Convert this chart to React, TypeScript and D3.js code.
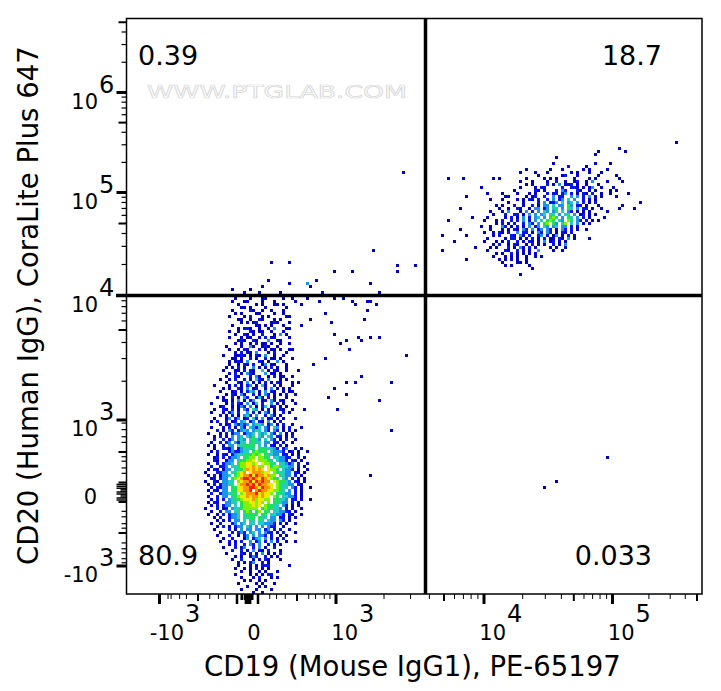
import React from 'react'
import * as d3 from 'd3'

// ---- density grids. Each char is one channel, '.' = empty, 1-9 = colour level
const lowerLeftStart = { col: 26, row: 93 }
const lowerLeftRows = [
  "..........1....1...11.....1..1....1",
  ".........1...11....1...1......1",
  "...........1.....1.1...11.1.....1",
  "............11.1....1......1",
  ".........1.....21..1..1...1...",
  "..........1.1....11....1..1",
  "........1....1.2...1.1.....11",
  "...........11..1..21...1.1",
  "............1.1.12....121...1",
  ".........1.......11.1.1...1.....1",
  "...........1.221..1..1.3...11",
  "........1..1...21.11..1...1",
  "..........1..21.1..2...1.3.1",
  "........1...1.11..1.2.11....1",
  "...........121..21...3..11",
  "..........1.1..1.2.11.1..1..1",
  ".......1....1..31..121..1..",
  "........1..1.21...2.1.11.1..11",
  "..........1.2.11.3...1.2...1",
  "......1...1121.1.21.3..1..1",
  ".........11.1..2.1..2.11.1...1",
  "........1.121.3...21.1..3.1",
  "........1..1.21.2..13.11...1",
  ".......1.1.2.1..3.1.1.2.1..1",
  "......1...11.2.21..4.1.21..1...1",
  "........1.2.1.321...3.11.1",
  ".......1..21...2.31..1.2.11..1",
  ".....1..1.2..2.1.421.3...1.1",
  ".......1...21.3.1.1.2.1.21...1.1",
  "...1....1.2.1.23.1.41..2.1...1",
  "......1.1..21.3.12..1.3.1.1.1",
  ".....1...12.1.243.1.3.21..1.11",
  ".......1.21.31..2.1.32.1.1.2..1",
  "....1.1..2.1.32..141.2.1...1",
  "......11.1.3.1.23..12.31.21..1",
  "..1....1.2.21.3.14.2..3.1.1...1",
  ".....12..1.132.3.1.24.12.1.1",
  "...1..21.2.1.32.43.1.2.1.21..1...1",
  "..1...1.23.2..3.2.1.32.1..2.1",
  ".....2.1.2.1.342.3..2.31.1",
  "...1...13.23.12.42.3.12.1.1...1",
  "..1.2..2.12.34.23.21.3.1.2",
  ".....2.12.32323.3543.23.1.2..1",
  "..1...1.2.1.32.4324.32.43.1.2...1",
  "....2.1.32.2343.354.32.32.1.2.1",
  ".1...1.2.233.2334.434.32.3.1.1",
  "...1.2.1.3.34.435.43.43.22.1.2",
  "...2..2.23.343.4543.4.32.1.2..1",
  "..1..2.23.3244.4544.33.22.1..1",
  ".1.1..1.33.445545.4.3.21.2.1",
  "...1..2213.234454.5554432.23..1.1",
  "..1.2...2322344.56555.43332.12.1..1",
  ".1..1.21.2344555656.54433.22.1.1",
  "...12.2.2334.5566.6655.443322..2.1",
  "...21..133.455667.66654.4332.21.1",
  ".1..2.2334.5667767.76654.44323.2..1",
  "..2..223.44566778766.756654433.2.1",
  ".1.21.133.4556878787.7665.4332.1..1",
  "1...2233.45678.7888677.654433.21.1",
  ".1.2.1334.56788979887866.5433.2.1",
  "..12.233.5678998987987655.43.2.1.1",
  "1..21.3344.67889798988.765543.21.1",
  ".1.2.23345.788989798877.654433.21",
  "..1.2133.55778899879887.6544.32.1..1",
  ".1.21.33.5577889.8988776654.3.2.1",
  "..2..233455.67888978776.55433.2.1",
  ".1..2.33.4567787887877.65.44332.1",
  "..1.2.2.34556777867766.55443.22.1..1",
  ".1.21..3344.56677676.6.55433.2.1",
  "..1.2.233.4.5666767.65544.32.1.1",
  "1...2.12.344566666.5655443.2.1..1",
  "..1..2.33.45.565.56.55.443322.1",
  ".1..1.2.2334.45555.55.44332.21..1",
  "...1.2..2334.4555.544.33.22.1.1",
  "....1.1.2.33.4.54.54.433.32.1",
  "..1..2...23.34.44.443332.2.1..1",
  "....1.2.1.233.43.3.3.322..1",
  "...1....2.1.3.33.33.23.2.2..1",
  ".....1...2.232.34.3.322.1.2...1",
  "....1...2..1.23.3.332.2..1.1",
  "......1..2...13.234.3.2.1.2",
  ".....1..2.1.2..3.23.2.3.2..1..1",
  "........1.2..2.32.3..2.1.1",
  "......1...2.13..2.3.1..2",
  ".........2..2.1.3.21.2...1",
  ".......1....21.2.1.3.1.1.2",
  "..........1.1..132..2.1.1",
  ".........1..2...1.1.21...1",
  "...........1.1.23..2.1",
  "...........1...1.1.222......1",
  "..........1..1.1.2.1.1",
  "............1..1..1.1...1",
  "..........1....1.1.1.22",
  "............1...1.2...1.1",
  ".............1.1..1.1",
  "...........1.....1.1...1",
  "..............1...1.1",
  "............1....1....1",
  "................1..1",
]

const upperRightStart = { col: 108, row: 43 }
const upperRightRows = [
  "........................................................1",
  ".................................................1........1",
  "................................................1",
  "...................................1",
  "",
  "..................................1.............1....1",
  ".......................................2.....1",
  ".........................1.......1...1......1.1.....1",
  ".......................1....1...1.......1.1...1...1",
  ".............................1.......12...1......1.....1",
  "..............1.1........1.....1.1.1.....1....1.1.......1",
  ".......................1...1....1..2..1..12..1.3....1",
  ".........................1.1....2.1.3.112.1..1...1",
  ".......................1....1.21.....2..221.1.13..1...1",
  ".....................1......21.1...2.32...21..1.1....1.1",
  ".................1....1...1.1...2.22.23.2.1.21.2..1..1",
  "..................11.....1.12..2..3.22..3.3.2.3.1.1....1",
  ".............1...1....1.1.21.2..2.3.23.4.3..2.1.1",
  "...................1....1....2.3.223.4.34.3.2.1.2",
  "...............1.1...2..1..2.1.33.4.33.53.22.1...1",
  "................1..1..21..1.33.23.45.3.54.3.22.1..1.....1",
  ".............1...1.3...1.3.2.3.43.35.4.32.1.1.1.....1",
  "..............1...2..22.1.3.3.34.54.3.45.3.12.1.1",
  "............1.....1.2.1.3.2.34.3.564.3.54.3.2.1....1",
  "...........1...1.2..2.2.3.2.3.4.565.43.65.32.2.1.1",
  "...............1.2.1.2..2.32.3.56.53.46.4.3.1.1",
  "..........1..1...32.1.2.1.3.23.43.34.33.2.1",
  ".............1...1.1.21.32.3.23.32.1.32.2.1..1",
  "...........1..1.21.2..3.22.1.32.32.1.21.2",
  "..............1.2...21.31.2..23.2.13.1.2.1",
  "............1.....1.22.1.1.2.1.2.11.21.3.1....1",
  "...........1...1.1.2..2.1.21.1.3.12.1.1",
  "..............1.2..1.21..1.2.1.1..2.1.3",
  ".............1.1...2.1.31.2.1....1.1..1",
  "............1.....21..2.1.1..3....1..1",
  "...............1.1..2.1.1.1.1",
  "..............1...1.1.1..1..1.1",
  "................1.1.1.1..1",
  ".................1....11.1",
  "..................1.1.....1",
  "...........................1",
  "",
  ".......................1",
]

// lone events away from the two populations: [col, row, level]
const strayEvents = [
  [183, 41, 1], [92, 51, 1], [82, 77, 1], [48, 81, 1], [54, 81, 1], [69, 84, 1], [75, 84, 1],
  [90, 82, 1], [90, 84, 1], [96, 82, 1], [47, 87, 1], [63, 87, 1], [54, 88, 1], [60, 88, 3],
  [35, 90, 1], [41, 90, 1], [45, 89, 1], [61, 89, 1], [81, 88, 1], [84, 91, 1], [39, 91, 1],
  [44, 91, 1], [51, 91, 1], [65, 91, 1], [72, 93, 1], [75, 94, 1], [76, 95, 1], [80, 94, 1],
  [81, 94, 1], [83, 95, 1], [80, 97, 1], [64, 94, 1], [69, 93, 1], [66, 98, 1], [68, 101, 1],
  [61, 100, 1], [79, 100, 1], [69, 105, 1], [73, 107, 1], [71, 108, 1], [78, 107, 1], [77, 106, 1],
  [81, 106, 1], [84, 106, 1], [74, 110, 1], [93, 112, 1], [66, 113, 1], [62, 115, 1], [78, 119, 1],
  [88, 121, 1], [73, 121, 1], [76, 121, 1], [69, 123, 1], [73, 125, 1], [67, 126, 1], [84, 127, 1],
  [70, 130, 1], [88, 137, 1], [81, 152, 1], [160, 146, 1], [143, 154, 1], [139, 156, 1],
  // edges of the upper right population
  [107, 53, 1], [112, 53, 1], [105, 72, 1], [107, 67, 1], [105, 77, 1], [113, 72, 1], [111, 70, 1],
  [111, 63, 1], [113, 59, 1], [118, 56, 1], [120, 58, 1], [171, 61, 1], [169, 63, 1], [165, 62, 1],
  [167, 58, 1], [165, 54, 1], [161, 57, 1], [109, 74, 1], [115, 66, 1], [116, 76, 1], [113, 80, 1],
]

const levelColors = ['#0000c4', '#0414f4', '#1c94ec', '#24ccc0', '#20e060', '#84f000', '#f4e800', '#ff9400', '#f42000']

// axis ticks in the cytometer's units
const xLabelled = [-1000, 1000, 10000, 100000]
const xHeavy = [-1000, 1000, 10000, 100000]
const xMedium = [-100, -10, 10, 100, 5000, 50000, 500000]
const xMinor = [-600, -500, -300, -200, -50, -30, -20, 20, 30, 50, 200, 300, 500, 700, 2000, 3000, 4000, 6000, 7000, 8000, 9000, 20000, 30000, 40000, 60000, 70000, 80000, 90000, 200000, 300000, 400000]
const xCluster = [-6, -5, -3, -2, -1, 0, 1, 2, 3, 4, 5]

const yLabelled = [-1000, 1000, 10000, 100000, 1000000]
const yHeavy = [-1000, 1000, 10000, 100000, 1000000]
const yMedium = [-100, -10, 10, 100, 5000, 50000, 500000, 5000000]
const yMinor = [-800, -600, -400, -300, -200, -70, -50, -30, -20, 20, 30, 50, 70, 200, 300, 500, 800, 2000, 3000, 4000, 6000, 7000, 8000, 9000, 20000, 30000, 40000, 60000, 70000, 80000, 90000, 200000, 300000, 400000, 600000, 700000, 800000, 900000, 2000000, 3000000, 4000000]
const yCluster = [-8, -6, -5, -3, -2, 0, 1, 3, 4, 6, 8]

const quadrants = [
  { label: '0.39', x: 138, y: 65, anchor: 'start' },
  { label: '18.7', x: 662, y: 65, anchor: 'end' },
  { label: '80.9', x: 138, y: 565, anchor: 'start' },
  { label: '0.033', x: 652, y: 565, anchor: 'end' },
]

const font = '"DejaVu Sans", Verdana, sans-serif'
const width = 721
const height = 691
const frame = { left: 126.5, right: 702, top: 18.5, bottom: 594 }

// biexponential-ish: linear inside +-10, decades outside
const decades = (v: number) => (Math.abs(v) < 10 ? v / 10 : Math.sign(v) * Math.log10(Math.abs(v)))

const xScale = d3.scaleLinear()
  .domain([-3, -2, -1, 0, 1, 2, 3, 3.301, 3.699, 4, 5, 5.699])
  .range([159.5, 198, 237, 247.5, 258, 297, 336, 384, 444, 484, 612.5, 697])
const yScale = d3.scaleLinear()
  .domain([-3, -2, -1, 0, 1, 2, 3, 3.699, 4, 5, 6, 7])
  .range([566, 533, 502, 492, 482.5, 452, 420, 330, 295.5, 192.5, 92.5, -8])

const xPos = (v: number) => xScale(decades(v))
const yPos = (v: number) => yScale(decades(v))

// 192 display channels on each side
const colScale = d3.scaleLinear().domain([0, 192]).range([126, 702])
const rowScale = d3.scaleLinear().domain([0, 192]).range([18, 594])

const levelColor = d3.scaleOrdinal<number, string>().domain(d3.range(1, 10)).range(levelColors)

function gridToEvents(rows: string[], start: { col: number; row: number }) {
  const out: number[][] = []
  rows.forEach((line, r) => {
    line.split('').forEach((ch, c) => {
      if (ch !== '.') out.push([start.col + c, start.row + r, +ch])
    })
  })
  return out
}

const events = [
  ...gridToEvents(lowerLeftRows, lowerLeftStart),
  ...gridToEvents(upperRightRows, upperRightStart),
  ...strayEvents,
]

function Exp10({ x, y, expX, expY, exp, text }: any) {
  return (
    <g fontFamily={font} fill="#000">
      <text x={x} y={y} fontSize={21} textAnchor="end">{text}</text>
      <text x={expX} y={expY} fontSize={24}>{exp}</text>
    </g>
  )
}

export default function App() {
  const xLen = (v: number, len: number, w: number) => (
    <line key={`x${v}`} x1={xPos(v)} x2={xPos(v)} y1={frame.bottom} y2={frame.bottom + len} stroke="#000" strokeWidth={w} />
  )
  const yLen = (v: number, len: number, w: number) => (
    <line key={`y${v}`} x1={frame.left - len} x2={frame.left} y1={yPos(v)} y2={yPos(v)} stroke="#000" strokeWidth={w} />
  )

  return (
    <svg width={width} height={height} style={{ position: 'absolute', left: 0, top: 0, background: '#fff' }}>
      <g shapeRendering="crispEdges">
        {events.map(([c, r, l], i) => (
          <rect key={i} x={colScale(c)} y={rowScale(r)} width={3} height={3} fill={levelColor(l)} />
        ))}
      </g>

      <text x={147} y={98} fontFamily={font} fontSize={17} textLength={260} lengthAdjust="spacingAndGlyphs"
        fill="#fff" stroke="#d8d8d8" strokeWidth={0.7}>WWW.PTGLAB.COM</text>

      <rect x={frame.left} y={frame.top} width={frame.right - frame.left} height={frame.bottom - frame.top}
        fill="none" stroke="#000" strokeWidth={1.5} />

      {/* quadrant gates */}
      <line x1={425.5} x2={425.5} y1={frame.top} y2={frame.bottom} stroke="#000" strokeWidth={3.5} />
      <line x1={116} x2={frame.right} y1={295.5} y2={295.5} stroke="#000" strokeWidth={3.5} />

      {xHeavy.map(v => xLen(v, 10, 3))}
      {xMedium.map(v => xLen(v, Math.abs(v) === 10 ? 10 : 7, Math.abs(v) === 10 ? 2.5 : 2))}
      {xMinor.map(v => xLen(v, 5, 1))}
      {xCluster.map(v => xLen(v, Math.abs(v - 0.5) < 3 ? 10 : 6, 1.5))}

      {yHeavy.map(v => yLen(v, 10, 3))}
      {yMedium.map(v => yLen(v, 8, 2))}
      {yMinor.map(v => yLen(v, 5, 1.2))}
      {yCluster.map(v => yLen(v, Math.abs(v) % 2 === 0 ? 10 : 6, 1.5))}

      {xLabelled.map(v => (
        <Exp10 key={v} text={v < 0 ? '-10' : '10'} exp={String(Math.round(Math.log10(Math.abs(v))))}
          x={v < 0 ? 184 : xPos(v) + 22} y={640}
          expX={v < 0 ? 185 : xPos(v) + 23} expY={622} />
      ))}
      <text x={254} y={640} textAnchor="middle" fontFamily={font} fontSize={21}>0</text>

      {yLabelled.map(v => (
        <Exp10 key={v} text={v < 0 ? '-10' : '10'} exp={String(Math.round(Math.log10(Math.abs(v))))}
          x={98} y={yPos(v) + 16} expX={99} expY={yPos(v)} />
      ))}
      <text x={97} y={504} textAnchor="end" fontFamily={font} fontSize={21}>0</text>

      {quadrants.map(q => (
        <text key={q.label} x={q.x} y={q.y} textAnchor={q.anchor as any} fontFamily={font} fontSize={27}>{q.label}</text>
      ))}

      <text x={204} y={676} fontFamily={font} fontSize={27.5}>CD19 (Mouse IgG1), PE-65197</text>
      <text transform="translate(38,565) rotate(-90)" fontFamily={font} fontSize={27.5}>CD20 (Human IgG), CoraLite Plus 647</text>
    </svg>
  )
}
